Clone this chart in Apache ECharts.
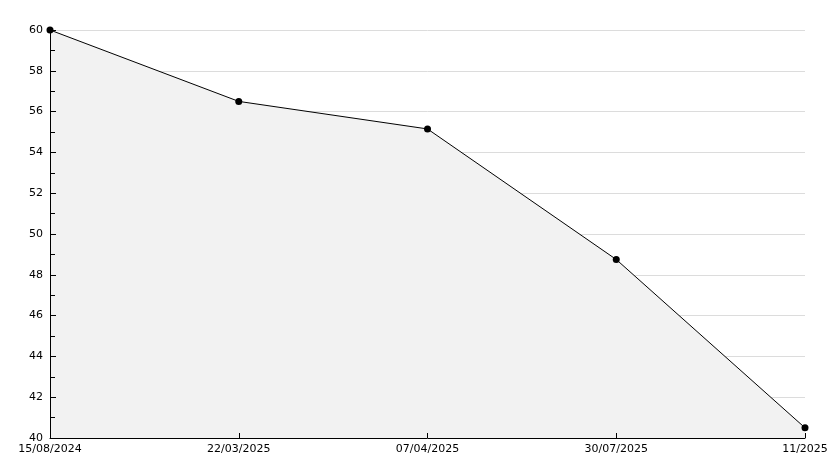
<!DOCTYPE html>
<html><head><meta charset="utf-8">
<script src="https://cdn.jsdelivr.net/npm/echarts@6/dist/echarts.min.js"></script>
<style>html,body{margin:0;padding:0;background:#fff}#c{width:834px;height:468px}</style>
</head><body><div id="c"></div>
<script>
const categories = ['15/08/2024','22/03/2025','07/04/2025','30/07/2025','11/2025'];
const values = [60, 56.5, 55.15, 48.75, 40.5];
const yTicks = {min: 40, max: 60, interval: 2};

const chart = echarts.init(document.getElementById('c'), null, {renderer:'canvas'});
const font = '"DejaVu Sans", sans-serif';
chart.setOption({
  animation: false,
  backgroundColor: '#fff',
  grid: {left: 50, right: 29, top: 30, bottom: 30, containLabel: false},
  xAxis: {
    type: 'category', data: categories, boundaryGap: false, z: 10,
    axisLine: {lineStyle: {color: '#000', width: 1}},
    axisTick: {show: true, inside: true, length: 5, alignWithLabel: true, lineStyle: {color: '#000'}},
    axisLabel: {color: '#000', fontFamily: font, fontSize: 11, margin: 6, interval: 0},
    splitLine: {show: false}
  },
  yAxis: [{
    type: 'value', min: yTicks.min, max: yTicks.max, interval: yTicks.interval, z: 10,
    axisLine: {show: true, lineStyle: {color: '#000', width: 1}},
    axisTick: {show: true, inside: true, length: 6, lineStyle: {color: '#000'}},
    minorTick: {show: true, splitNumber: 2, length: 5, lineStyle: {color: '#000'}},
    axisLabel: {color: '#000', fontFamily: font, fontSize: 11, margin: 7},
    splitLine: {show: false}
  }, {
    type: 'value', min: yTicks.min, max: yTicks.max, interval: yTicks.interval, z: 0,
    position: 'left',
    axisLine: {show: false}, axisTick: {show: false}, axisLabel: {show: false},
    splitLine: {show: true, lineStyle: {color: '#dcdcdc', width: 1}}
  }],
  series: [{
    type: 'line', data: values, yAxisIndex: 0,
    symbol: 'circle', symbolSize: 7,
    itemStyle: {color: '#000'},
    lineStyle: {color: '#000', width: 1},
    areaStyle: {color: '#f2f2f2', opacity: 1, origin: 'start'}
  }]
});
</script></body></html>
